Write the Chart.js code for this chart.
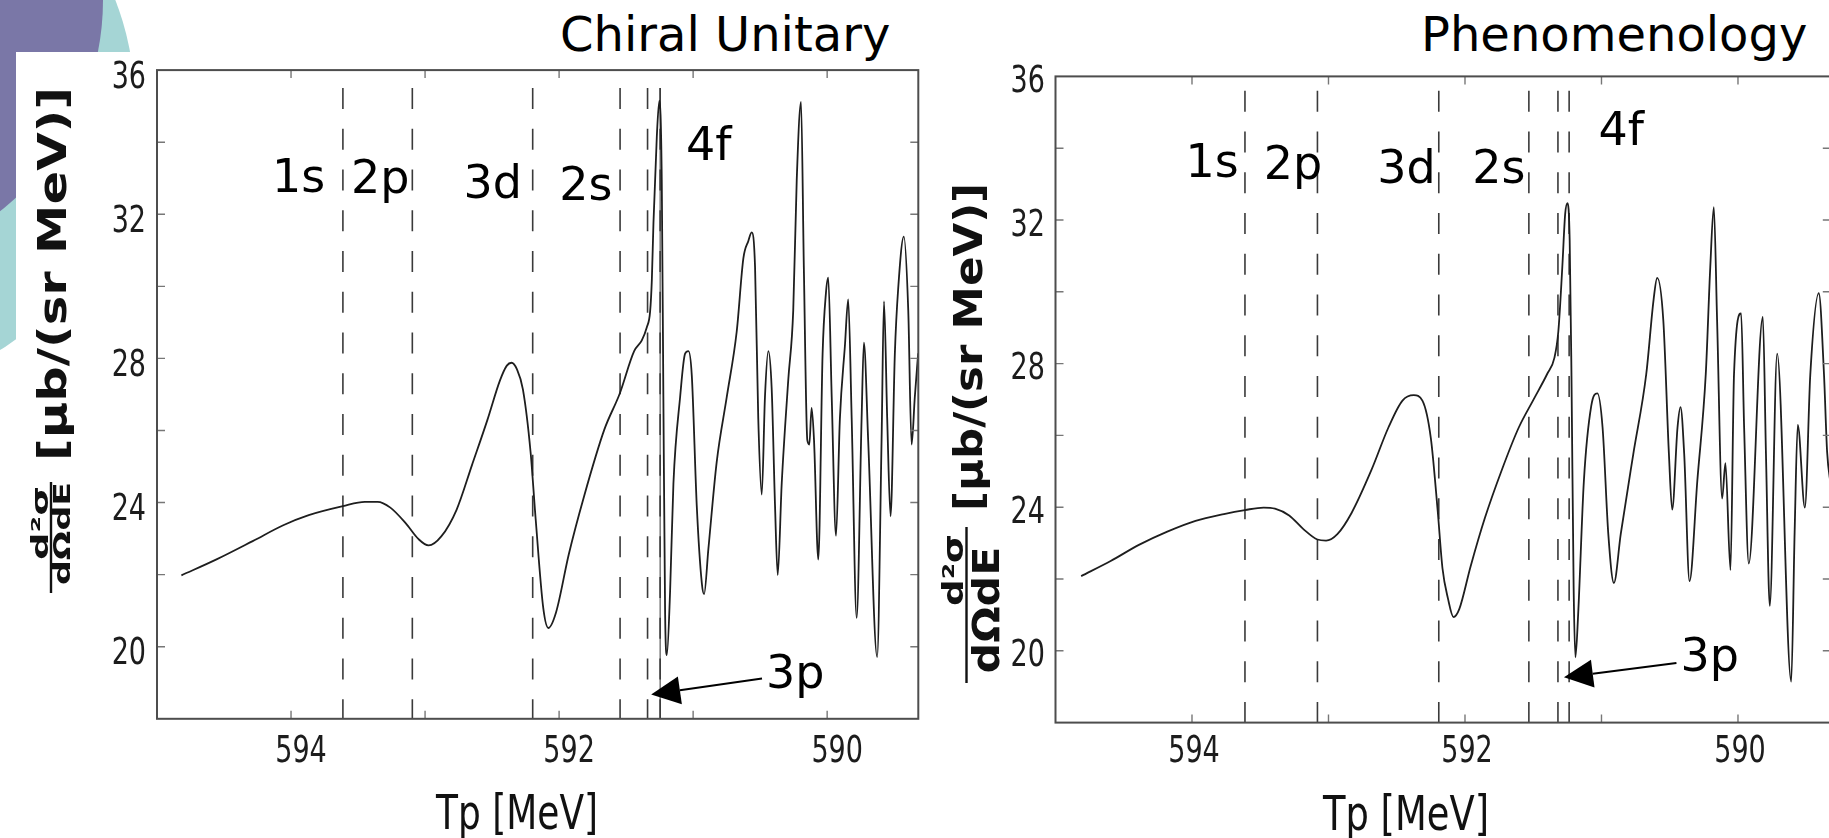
<!DOCTYPE html>
<html lang="en">
<head>
<meta charset="utf-8">
<title>d2sigma/dOmega dE vs Tp</title>
<script src="https://cdn.jsdelivr.net/npm/chart.js@4.4.1/dist/chart.umd.min.js"></script>
<style>
  html, body { margin: 0; padding: 0; background: #fff; overflow: hidden; }
  body { position: relative; width: 1829px; height: 838px; font-family: 'DejaVu Sans', sans-serif; }
  #deco { position: absolute; left: 0; top: 0; }
  #sheet { position: absolute; left: 16px; top: 52px; width: 1813px; height: 786px; background: #fff; }
  .panel-title { position: absolute; top: 10px; font-size: 48px; line-height: 48px; color: #000; white-space: nowrap; }
  canvas { position: absolute; top: 0; }
</style>
</head>
<body>
<svg id="deco" width="220" height="420">
  <circle cx="-155" cy="105" r="290" fill="#a5d5d5"/>
  <circle cx="-165" cy="0" r="268" fill="#7a77a7"/>
</svg>
<div id="sheet"></div>
<div class="panel-title" style="left:560px">Chiral Unitary</div>
<div class="panel-title" style="left:1421px">Phenomenology</div>
<canvas id="chiral" width="1000" height="838" style="left:0"></canvas>
<canvas id="pheno" width="940" height="838" style="left:900px"></canvas>
<script>
// Values: Tp [MeV] and d2sigma/dOmega dE [ub/(sr MeV)]
const chiralTp = [594.818, 594.552, 594.286, 594.058, 593.868, 593.613, 593.449, 593.354, 593.259, 593.145,
  593.050, 592.974, 592.879, 592.765, 592.650, 592.536, 592.441, 592.390, 592.355, 592.315,
  592.270, 592.213, 592.175, 592.118, 592.080, 592.023, 591.928, 591.814, 591.662, 591.548,
  591.440, 591.383, 591.346, 591.321, 591.308, 591.296, 591.271, 591.252, 591.234, 591.222,
  591.209, 591.196, 591.172, 591.147, 591.097, 591.060, 591.035, 591.010, 590.973, 590.935,
  590.918, 590.886, 590.824, 590.749, 590.675, 590.625, 590.588, 590.563, 590.538, 590.514,
  590.488, 590.464, 590.439, 590.414, 590.389, 590.369, 590.339, 590.290, 590.253, 590.227,
  590.195, 590.174, 590.148, 590.133, 590.116, 590.098, 590.066, 590.034, 590.009, 589.992,
  589.966, 589.934, 589.905, 589.867, 589.843, 589.817, 589.780, 589.743, 589.726, 589.694,
  589.627, 589.594, 589.576, 589.552, 589.527, 589.495, 589.470, 589.428, 589.395, 589.370,
  589.346, 589.321];
const chiralXs = [21.98, 22.43, 22.93, 23.37, 23.65, 23.90, 24.02, 24.02, 23.86, 23.43,
  22.99, 22.81, 23.06, 23.80, 25.04, 26.28, 27.39, 27.80, 27.88, 27.70,
  27.14, 25.41, 23.55, 21.07, 20.52, 20.95, 22.56, 24.17, 26.03, 27.02,
  28.20, 28.50, 28.86, 29.30, 30.18, 31.75, 34.15, 35.15, 32.95, 26.93,
  20.92, 19.77, 21.52, 24.53, 26.93, 28.13, 28.20, 27.53, 23.92, 21.76,
  21.46, 22.72, 25.13, 26.93, 28.74, 30.78, 31.26, 31.50, 30.54, 26.33,
  24.22, 26.93, 28.20, 27.17, 23.92, 21.99, 24.53, 27.41, 29.34, 32.95,
  35.12, 30.54, 25.73, 25.61, 26.63, 25.73, 22.42, 28.13, 29.82, 30.24,
  26.93, 23.08, 26.33, 28.38, 29.64, 26.33, 20.80, 26.33, 28.44, 25.73,
  19.71, 25.73, 29.58, 26.33, 23.62, 28.13, 29.94, 31.38, 29.34, 25.61,
  26.93, 28.14];

const phenoTp = [594.812, 594.596, 594.389, 594.181, 593.974, 593.766, 593.612, 593.475, 593.392, 593.288,
  593.184, 593.081, 593.018, 592.935, 592.831, 592.686, 592.561, 592.458, 592.375, 592.312,
  592.250, 592.200, 592.165, 592.125, 592.084, 592.042, 591.959, 591.855, 591.731, 591.606,
  591.502, 591.398, 591.345, 591.316, 591.287, 591.266, 591.249, 591.233, 591.220, 591.204,
  591.191, 591.171, 591.129, 591.075, 591.030, 590.992, 590.950, 590.909, 590.859, 590.767,
  590.672, 590.618, 590.592, 590.547, 590.506, 590.482, 590.443, 590.421, 590.394, 590.355,
  590.298, 590.236, 590.203, 590.177, 590.153, 590.116, 590.092, 590.055, 590.029, 589.977,
  589.955, 589.921, 589.818, 589.795, 589.767, 589.713, 589.610, 589.585, 589.562, 589.510,
  589.470, 589.408, 589.370, 589.347, 589.320];
const phenoXs = [22.08, 22.50, 22.95, 23.32, 23.62, 23.81, 23.92, 23.99, 23.96, 23.77,
  23.39, 23.10, 23.07, 23.25, 23.84, 25.03, 26.22, 26.97, 27.12, 26.97,
  25.92, 23.90, 22.30, 21.46, 20.94, 21.16, 22.35, 23.69, 25.03, 26.22,
  26.97, 27.71, 28.16, 28.90, 30.69, 32.17, 32.47, 31.43, 27.71, 21.76,
  19.82, 21.01, 24.73, 26.82, 27.17, 26.22, 23.25, 21.89, 23.25, 25.48,
  27.71, 29.79, 30.39, 29.20, 25.48, 23.93, 26.22, 26.79, 25.48, 21.94,
  24.73, 27.71, 30.69, 32.36, 29.20, 24.24, 25.23, 22.25, 27.71, 29.40,
  26.22, 22.43, 29.30, 25.48, 21.25, 28.28, 19.14, 23.30, 26.29, 23.99,
  27.71, 29.96, 27.71, 25.54, 24.60];

// shell thresholds (dashed lines) and their names
const chiralShells = [593.613, 593.095, 592.197, 591.545, 591.340, 591.246];
const phenoShells = [593.612, 593.081, 592.192, 591.532, 591.319, 591.237];
const shellNames = ['1s', '2p', '3d', '2s', '4f', '3p'];

// axes
const tpRange = [589.32, 595];
const xsRange = [18, 36];
const xTicks = [590, 591, 592, 593, 594, 595];
const xTickLabels = [590, 592, 594];
const yTicks = [18, 20, 22, 24, 26, 28, 30, 32, 34, 36];
const yTickLabels = [20, 24, 28, 32, 36];

const SQUEEZE = 0.73; // the original figures are squeezed sideways on the slide

function squeezedText(ctx, text, x, y, size, align) {
    ctx.save();
    ctx.font = size + 'px "DejaVu Sans"';
    ctx.translate(x, y);
    ctx.scale(SQUEEZE, 1);
    ctx.textAlign = align;
    ctx.textBaseline = 'alphabetic';
    ctx.fillText(text, 0, 0);
    ctx.restore();
}

function fittedText(ctx, text, cx, base, width, size) {
    ctx.save();
    ctx.font = size + 'px "DejaVu Sans"';
    const w = ctx.measureText(text).width;
    ctx.translate(cx, base);
    ctx.scale(width / w, 1);
    ctx.textAlign = 'center';
    ctx.textBaseline = 'alphabetic';
    ctx.fillText(text, 0, 0);
    ctx.restore();
}

// text read bottom to top, baseline on the right side
function rotatedText(ctx, text, baseX, midY, length, height) {
    ctx.save();
    ctx.font = 'bold 40px "DejaVu Sans"';
    const w = ctx.measureText(text).width;
    ctx.translate(baseX, midY);
    ctx.rotate(-Math.PI / 2);
    ctx.scale(length / w, height / 30.4);
    ctx.textAlign = 'center';
    ctx.textBaseline = 'alphabetic';
    ctx.fillText(text, 0, 0);
    ctx.restore();
}

const panelPlugin = {
    id: 'panel',
    beforeDatasetsDraw(chart, args, o) {
        const { ctx, chartArea: a, scales: { x, y } } = chart;
        const top = y.getPixelForValue(o.dashTop);
        ctx.save();
        if (o.solidAt) {
            const px = x.getPixelForValue(o.solidAt);
            ctx.strokeStyle = '#555';
            ctx.lineWidth = 1.2;
            ctx.beginPath();
            ctx.moveTo(px, top);
            ctx.lineTo(px, a.bottom);
            ctx.stroke();
        }
        ctx.strokeStyle = '#3a3a3a';
        ctx.lineWidth = 1.6;
        ctx.setLineDash([21, 19.75]);
        o.shells.forEach(v => {
            const px = x.getPixelForValue(v);
            ctx.beginPath();
            ctx.moveTo(px, top);
            ctx.lineTo(px, a.bottom);
            ctx.stroke();
        });
        ctx.restore();
    },
    afterDraw(chart, args, o) {
        const { ctx, chartArea: a, scales: { x, y } } = chart;
        const off = o.offset;
        ctx.save();

        // inward ticks
        ctx.strokeStyle = '#777';
        ctx.lineWidth = 1.4;
        ctx.beginPath();
        xTicks.forEach(v => {
            const px = x.getPixelForValue(v);
            if (px < a.left + 2 || px > a.right - 2) return;
            ctx.moveTo(px, a.bottom); ctx.lineTo(px, a.bottom - 8);
            ctx.moveTo(px, a.top); ctx.lineTo(px, a.top + 8);
        });
        yTicks.forEach(v => {
            const py = y.getPixelForValue(v);
            if (py < a.top + 2 || py > a.bottom - 2) return;
            ctx.moveTo(a.left, py); ctx.lineTo(a.left + 8, py);
            ctx.moveTo(a.right, py); ctx.lineTo(a.right - 8, py);
        });
        ctx.stroke();

        // frame
        ctx.strokeStyle = '#4d4d4d';
        ctx.lineWidth = 2;
        ctx.strokeRect(a.left, a.top, a.right - a.left, a.bottom - a.top);

        // tick labels
        ctx.fillStyle = '#1c1c1c';
        xTickLabels.forEach(v => squeezedText(ctx, String(v), x.getPixelForValue(v) + o.xLabelShift, o.xLabelBase, 37, 'center'));
        yTickLabels.forEach(v => squeezedText(ctx, String(v), a.left - o.yLabelGap, y.getPixelForValue(v) + o.yLabelDrop + 13.5, 37, 'right'));

        // axis titles
        ctx.fillStyle = '#111';
        fittedText(ctx, 'Tp [MeV]', o.xTitle.cx - off, o.xTitle.base, o.xTitle.w, 48);
        rotatedText(ctx, '[\u03bcb/(sr MeV)]', o.yTitle.base - off, o.yTitle.cy, o.yTitle.len, o.yTitle.h);
        rotatedText(ctx, 'd\u00b2\u03c3', o.num.base - off, o.num.cy, o.num.len, o.num.h);
        rotatedText(ctx, 'd\u03a9dE', o.den.base - off, o.den.cy, o.den.len, o.den.h);
        ctx.strokeStyle = '#111';
        ctx.lineWidth = 2.4;
        ctx.beginPath();
        ctx.moveTo(o.bar.x - off, o.bar.y0);
        ctx.lineTo(o.bar.x - off, o.bar.y1);
        ctx.stroke();

        // shell names
        ctx.fillStyle = '#000';
        ctx.font = '46px "DejaVu Sans"';
        ctx.textAlign = 'left';
        ctx.textBaseline = 'alphabetic';
        shellNames.forEach((name, i) => {
            const [lx, ly] = o.labelAt[i];
            ctx.fillText(name, x.getPixelForValue(lx), y.getPixelForValue(ly));
        });

        // arrow pointing at the 3p threshold
        const sx = x.getPixelForValue(o.arrow[0][0]), sy = y.getPixelForValue(o.arrow[0][1]);
        const tx = x.getPixelForValue(o.arrow[1][0]), ty = y.getPixelForValue(o.arrow[1][1]);
        const len = Math.hypot(tx - sx, ty - sy);
        const ux = (tx - sx) / len, uy = (ty - sy) / len;
        const bx = tx - ux * 29, by = ty - uy * 29;
        ctx.strokeStyle = '#000';
        ctx.lineWidth = 2;
        ctx.beginPath();
        ctx.moveTo(sx, sy);
        ctx.lineTo(bx, by);
        ctx.stroke();
        ctx.beginPath();
        ctx.moveTo(tx, ty);
        ctx.lineTo(bx - uy * 14, by + ux * 14);
        ctx.lineTo(bx + uy * 14, by - ux * 14);
        ctx.closePath();
        ctx.fill();

        ctx.restore();
    }
};

function makePanel(id, tp, xs, panel) {
    const points = tp.map((v, i) => ({ x: v, y: xs[i] }));
    return new Chart(document.getElementById(id), {
        type: 'line',
        data: {
            datasets: [{
                data: points,
                borderColor: '#1e1e1e',
                borderWidth: 1.8,
                pointRadius: 0,
                fill: false,
                cubicInterpolationMode: 'monotone'
            }]
        },
        options: {
            responsive: false,
            animation: false,
            events: [],
            layout: { padding: panel.padding },
            plugins: {
                legend: { display: false },
                tooltip: { enabled: false },
                panel: panel
            },
            scales: {
                x: { type: 'linear', min: tpRange[0], max: tpRange[1], reverse: true, display: false },
                y: { type: 'linear', min: xsRange[0], max: xsRange[1], display: false }
            }
        },
        plugins: [panelPlugin]
    });
}

makePanel('chiral', chiralTp, chiralXs, {
    offset: 0,
    padding: { left: 157, right: 81.7, top: 70.1, bottom: 119.2 },
    shells: chiralShells, solidAt: 591.246, dashTop: 35.5,
    labelAt: [[594.142, 32.62], [593.552, 32.58], [592.713, 32.44], [591.999, 32.40], [591.053, 33.5], [590.456, 18.85]],
    arrow: [[590.486, 19.12], [591.313, 18.675]],
    xLabelShift: 10, xLabelBase: 762, yLabelGap: 11, yLabelDrop: 4,
    xTitle: { cx: 517, base: 829, w: 162 },
    yTitle: { base: 66, cy: 274, len: 374, h: 30 },
    num: { base: 48, cy: 523, len: 74, h: 18 },
    den: { base: 70, cy: 533.5, len: 103, h: 17 },
    bar: { x: 51, y0: 482, y1: 593 }
});

makePanel('pheno', phenoTp, phenoXs, {
    offset: 900,
    padding: { left: 155.5, right: 9.2, top: 76.4, bottom: 115.4 },
    shells: phenoShells, solidAt: null, dashTop: 35.6,
    labelAt: [[594.048, 33.20], [593.474, 33.13], [592.643, 33.04], [591.947, 33.02], [591.022, 34.10], [590.421, 19.44]],
    arrow: [[590.451, 19.66], [591.275, 19.26]],
    xLabelShift: 2, xLabelBase: 762, yLabelGap: 10.6, yLabelDrop: 2,
    xTitle: { cx: 1406, base: 830, w: 166 },
    yTitle: { base: 982, cy: 347, len: 328, h: 30 },
    num: { base: 963, cy: 570, len: 72, h: 21 },
    den: { base: 999, cy: 610, len: 127, h: 28 },
    bar: { x: 966.5, y0: 527, y1: 683 }
});
</script>
</body>
</html>
